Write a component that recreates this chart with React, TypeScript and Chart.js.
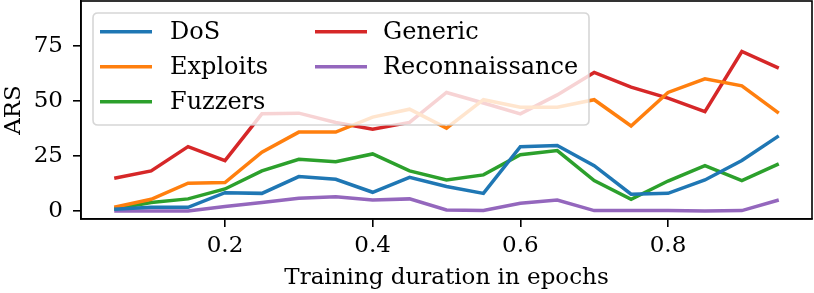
import React, { useEffect, useRef } from "react";
import { Chart, registerables } from "chart.js";

Chart.register(...registerables);

const epochs = [0.05, 0.1, 0.15, 0.2, 0.25, 0.3, 0.35, 0.4, 0.45, 0.5, 0.55, 0.6, 0.65, 0.7, 0.75, 0.8, 0.85, 0.9, 0.95];
const dos = [0.8, 1.7, 1.7, 8.3, 8.0, 15.6, 14.4, 8.5, 15.3, 11.1, 8.0, 29.2, 29.7, 20.6, 7.6, 8.0, 14.1, 22.9, 34.1];
const exploits = [1.7, 5.3, 12.6, 12.9, 26.7, 35.8, 35.8, 42.6, 46.2, 37.6, 50.5, 47.1, 47.1, 50.5, 38.6, 53.8, 60.0, 56.8, 44.4];
const fuzzers = [0.9, 3.9, 5.5, 10.0, 18.2, 23.5, 22.4, 25.9, 18.2, 14.1, 16.4, 25.5, 27.4, 13.8, 5.3, 13.6, 20.6, 13.8, 21.4];
const generic = [14.9, 18.2, 29.2, 22.9, 44.1, 44.4, 40.2, 37.1, 40.2, 53.8, 49.0, 44.1, 52.7, 62.9, 56.2, 51.2, 45.1, 72.4, 64.8];
const recon = [0.0, 0.0, 0.0, 2.0, 3.9, 5.8, 6.5, 5.0, 5.5, 0.5, 0.2, 3.5, 5.0, 0.2, 0.2, 0.2, 0.0, 0.2, 5.0];

const seriesNames = ["DoS", "Exploits", "Fuzzers", "Generic", "Reconnaissance"];
const seriesData = [dos, exploits, fuzzers, generic, recon];
const colors = ["#1f77b4", "#ff7f0e", "#2ca02c", "#d62728", "#9467bd"];
const xTicks = [0.2, 0.4, 0.6, 0.8];
const yTicks = [0, 25, 50, 75];

const FONT = "'DejaVu Serif', serif";

const framePlugin = {
  id: "frame",
  afterDatasetsDraw(chart: any) {
    const { ctx, chartArea } = chart;
    const { left, right, top, bottom } = chartArea;
    ctx.save();
    // legend
    const lx = 93, ly = 13, lw = 496, lh = 112, r = 5;
    ctx.beginPath();
    ctx.moveTo(lx + r, ly);
    ctx.lineTo(lx + lw - r, ly);
    ctx.quadraticCurveTo(lx + lw, ly, lx + lw, ly + r);
    ctx.lineTo(lx + lw, ly + lh - r);
    ctx.quadraticCurveTo(lx + lw, ly + lh, lx + lw - r, ly + lh);
    ctx.lineTo(lx + r, ly + lh);
    ctx.quadraticCurveTo(lx, ly + lh, lx, ly + lh - r);
    ctx.lineTo(lx, ly + r);
    ctx.quadraticCurveTo(lx, ly, lx + r, ly);
    ctx.closePath();
    ctx.fillStyle = "rgba(255,255,255,0.8)";
    ctx.fill();
    ctx.strokeStyle = "rgba(204,204,204,0.8)";
    ctx.lineWidth = 1.6;
    ctx.stroke();
    const cols = [
      { lineX: 100, textX: 170 },
      { lineX: 315, textX: 383 },
    ];
    const rows = [31.7, 66.7, 101.7];
    ctx.font = `24px ${FONT}`;
    ctx.textBaseline = "middle";
    ctx.textAlign = "left";
    seriesNames.forEach((name, i) => {
      const c = i < 3 ? cols[0] : cols[1];
      const y = rows[i < 3 ? i : i - 3];
      ctx.beginPath();
      ctx.moveTo(c.lineX, y);
      ctx.lineTo(c.lineX + 52, y);
      ctx.strokeStyle = colors[i];
      ctx.lineWidth = 3.5;
      ctx.stroke();
      ctx.fillStyle = "#000";
      ctx.fillText(name, c.textX, y + 1);
    });
    // frame
    ctx.strokeStyle = "#000";
    ctx.lineWidth = 1.6;
    ctx.strokeRect(left, top, right - left, bottom - top);
    ctx.restore();
  },
};

const zeroPad = (s: any) => {
  s.paddingTop = 0;
  s.paddingBottom = 0;
  s.paddingLeft = 0;
  s.paddingRight = 0;
};

export default function App() {
  const ref = useRef<HTMLCanvasElement | null>(null);
  useEffect(() => {
    document.body.style.margin = "0";
    const canvas = ref.current!;
    const chart = new Chart(canvas, {
      type: "line",
      data: {
        datasets: seriesNames.map((name, i) => ({
          label: name,
          data: epochs.map((x, j) => ({ x, y: seriesData[i][j] })),
          borderColor: colors[i],
          backgroundColor: colors[i],
          borderWidth: 3.5,
          pointRadius: 0,
          tension: 0,
          fill: false,
        })),
      },
      options: {
        animation: false,
        responsive: false,
        layout: { padding: { top: 1, right: 2, left: 0, bottom: 0 } },
        plugins: { legend: { display: false }, tooltip: { enabled: false } },
        scales: {
          x: {
            type: "linear",
            min: 0.005,
            max: 0.995,
            afterBuildTicks: (s: any) => {
              s.ticks = xTicks.map((v) => ({ value: v }));
            },
            afterFit: (s: any) => {
              s.height = 74;
              zeroPad(s);
            },
            grid: { drawOnChartArea: false, drawTicks: true, tickLength: 8, color: "#000", lineWidth: 1.6 },
            border: { display: true, color: "#000", width: 1.6 },
            ticks: {
              color: "#000",
              font: { family: FONT, size: 23 },
              padding: 5,
              maxRotation: 0,
              callback: (v: any) => Number(v).toFixed(1),
            },
            title: {
              display: true,
              text: "Training duration in epochs",
              color: "#000",
              font: { family: FONT, size: 23 },
              padding: { top: 0, bottom: 1 },
            },
          },
          y: {
            min: -3.63,
            max: 95.3,
            afterBuildTicks: (s: any) => {
              s.ticks = yTicks.map((v) => ({ value: v }));
            },
            afterFit: (s: any) => {
              s.width = 81;
              zeroPad(s);
            },
            grid: { drawOnChartArea: false, drawTicks: true, tickLength: 8, color: "#000", lineWidth: 1.6 },
            border: { display: true, color: "#000", width: 1.6 },
            ticks: {
              color: "#000",
              font: { family: FONT, size: 23 },
              padding: 10,
            },
            title: {
              display: true,
              text: "ARS",
              color: "#000",
              font: { family: FONT, size: 23 },
              padding: { top: 0, bottom: 0 },
            },
          },
        },
      },
      plugins: [framePlugin],
    });
    return () => chart.destroy();
  }, []);
  return (
    <div style={{ width: 814, height: 293 }}>
      <canvas ref={ref} width={814} height={293} style={{ display: "block", width: 814, height: 293 }} />
    </div>
  );
}
